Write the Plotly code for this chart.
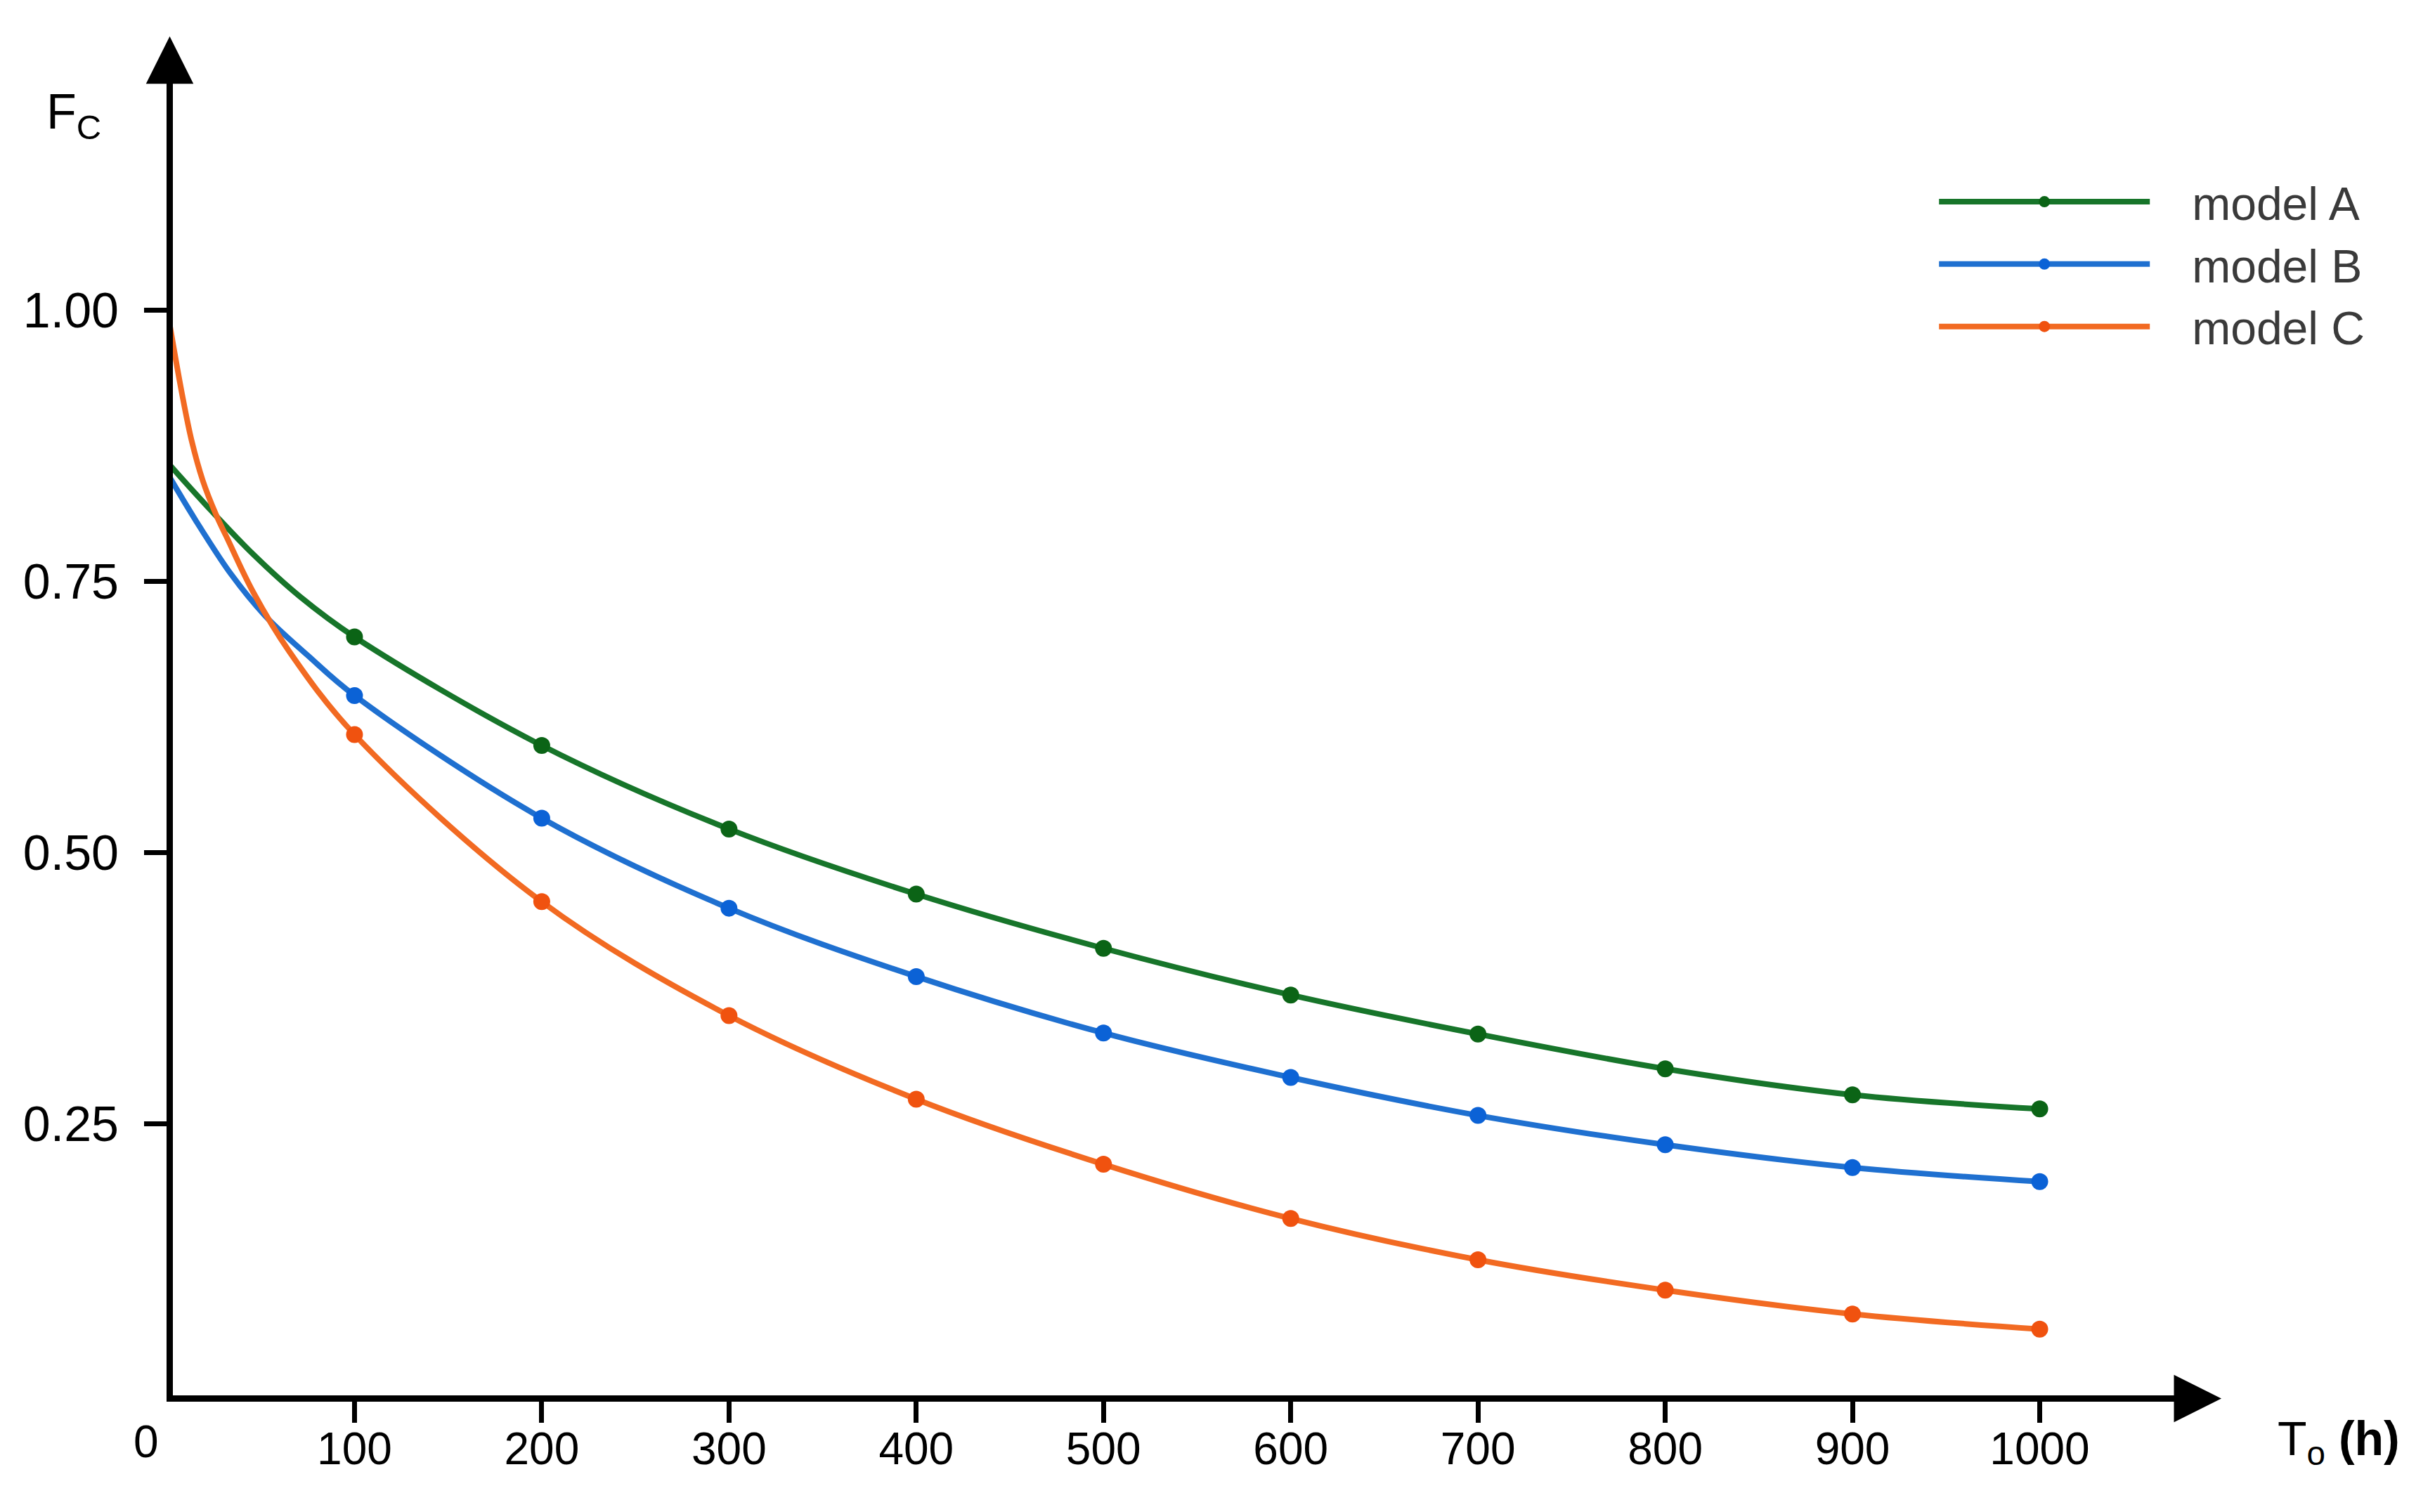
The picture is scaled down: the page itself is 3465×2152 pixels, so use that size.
import plotly.graph_objects as go

# hours with a marker on the curves
hours = [100, 200, 300, 400, 500, 600, 700, 800, 900, 1000]

# model A (green): early part of the curve, then the marked values
a_start_x = [0, 21, 46, 71]
a_start_y = [0.86, 0.820, 0.775, 0.736]
a_vals = [0.699, 0.599, 0.522, 0.462, 0.412, 0.369, 0.333, 0.301, 0.277, 0.264]

# model B (blue)
b_start_x = [0, 15, 34, 52, 75]
b_start_y = [0.85, 0.807, 0.757, 0.719, 0.682]
b_vals = [0.645, 0.532, 0.449, 0.386, 0.334, 0.293, 0.258, 0.231, 0.210, 0.197]

# model C (orange)
c_start_x = [0, 8, 13, 19, 26, 32, 46, 65]
c_start_y = [1.0, 0.922, 0.880, 0.843, 0.812, 0.790, 0.740, 0.686]
c_vals = [0.609, 0.455, 0.350, 0.273, 0.213, 0.163, 0.125, 0.097, 0.075, 0.061]

names = ["model A", "model B", "model C"]
y_ticks = [0.25, 0.50, 0.75, 1.00]

FONT = "Liberation Sans, Arial, sans-serif"
# page body has an 8px margin, so the figure is a bit smaller than the window
W, H = 3449, 2136
L, R, T, B = 238, 328, 94, 158
X_MIN, X_MAX = 3, 1085
Y_MAX = 1.22

series = [
    (names[0], a_start_x, a_start_y, a_vals, "#17752a", "#0b6416"),
    (names[1], b_start_x, b_start_y, b_vals, "#1f70d0", "#0b62d6"),
    (names[2], c_start_x, c_start_y, c_vals, "#f26a22", "#f0520f"),
]

fig = go.Figure()

for name, sx, sy, vals, col, mcol in series:
    # points run from 1000 h back to 0 so the legend picks up a visible marker
    xs = hours[::-1] + sx[::-1]
    ys = vals[::-1] + sy[::-1]
    mcols = [mcol] * len(hours) + ["rgba(0,0,0,0)"] * len(sx)
    fig.add_trace(go.Scatter(
        x=xs, y=ys, name="\u00a0\u00a0\u00a0" + name,
        mode="lines+markers",
        line=dict(color=col, width=8, shape="spline"),
        marker=dict(color=mcols, size=24, line=dict(width=0)),
    ))

fig.update_xaxes(
    range=[X_MIN, X_MAX],
    tickvals=hours,
    showline=True, linewidth=9, linecolor="black",
    ticks="outside", ticklen=30, tickwidth=7, tickcolor="black",
    ticklabelstandoff=-18,
    showgrid=False, zeroline=False,
    tickfont=dict(family=FONT, size=64, color="black"),
)
fig.update_yaxes(
    range=[0, Y_MAX],
    tickvals=y_ticks, tickformat=".2f",
    showline=True, linewidth=9, linecolor="black",
    ticks="outside", ticklen=32, tickwidth=7, tickcolor="black",
    ticklabelstandoff=22,
    showgrid=False, zeroline=False,
    tickfont=dict(family=FONT, size=70, color="black"),
)

# arrow heads at the end of the axes
fig.add_annotation(x=1097, y=0, ax=1060, ay=0, xref="x", yref="y", axref="x", ayref="y",
                   text="", showarrow=True, arrowhead=2, arrowwidth=9, arrowsize=1.5,
                   arrowcolor="black", yshift=-4.5)
fig.add_annotation(x=X_MIN, y=1.2526, ax=X_MIN, ay=1.19, xref="x", yref="y", axref="x", ayref="y",
                   text="", showarrow=True, arrowhead=2, arrowwidth=9, arrowsize=1.5,
                   arrowcolor="black", xshift=-4.5)

# "0" at the origin
fig.add_annotation(x=X_MIN, y=0, xref="x", yref="y", text="0", showarrow=False,
                   xshift=-38, yshift=-66, font=dict(family=FONT, size=64, color="black"))

# axis titles
fig.add_annotation(x=X_MIN, y=1.18, xref="x", yref="y", xanchor="left", text="F<sub>C</sub>",
                   showarrow=False, xshift=-182, font=dict(family=FONT, size=70, color="black"))
fig.add_annotation(x=1.069, y=-0.035, xref="paper", yref="paper", xanchor="center", yanchor="middle",
                   text="T<sub>o</sub> <b>(h)</b>",
                   showarrow=False, font=dict(family=FONT, size=68, color="black"))

fig.update_layout(
    width=W, height=H,
    margin=dict(l=L, r=R, t=T, b=B),
    plot_bgcolor="white", paper_bgcolor="white",
    legend=dict(
        x=0.87, y=0.928, xanchor="left", yanchor="top",
        font=dict(family=FONT, size=66, color="#3a3a3a"),
        itemwidth=300,
        bgcolor="rgba(0,0,0,0)",
    ),
)

fig.write_html("out.html")
